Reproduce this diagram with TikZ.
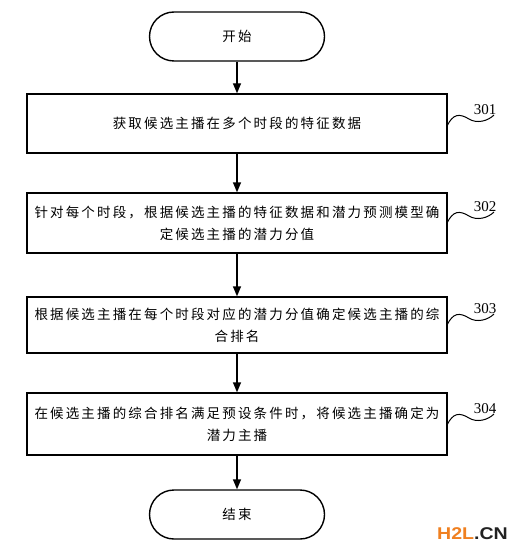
\documentclass[tikz,border=0pt]{standalone}
\usepackage{fontspec}
\usetikzlibrary{arrows.meta}
\newfontfamily\cjk[LetterSpace=16]{Noto Sans CJK SC}
\newfontfamily\numfont{Liberation Serif}
\newfontfamily\wmfont{Liberation Sans}
\definecolor{wmorange}{HTML}{F08020}
\definecolor{wmgray}{HTML}{222222}
\tikzset{
  base/.style={draw=black, line width=1.4pt, font=\cjk\fontsize{13.5}{22}\selectfont, align=center, inner sep=0pt},
  term/.style={base, minimum width=175pt, minimum height=49pt, rounded corners=24.5pt},
  stepbox/.style={base, minimum width=420pt},
  flow/.style={line width=1.4pt, -{Triangle[length=10pt,width=8pt]}},
  squig/.style={line width=1pt},
  lbl/.style={font=\numfont\fontsize{15}{16}\selectfont, inner sep=0pt}
}
\begin{document}
\begin{tikzpicture}[x=1pt,y=-1pt]
\useasboundingbox (0,0) rectangle (529,556);
\fill[white] (0,0) rectangle (529,556);

\node[term] (start) at (237,36.5) {开始};
\node[stepbox, minimum height=59pt] (s1) at (237,123.5) {获取候选主播在多个时段的特征数据};
\node[stepbox, minimum height=60pt] (s2) at (237,223) {针对每个时段，根据候选主播的特征数据和潜力预测模型确\\定候选主播的潜力分值};
\node[stepbox, minimum height=56pt] (s3) at (237,325) {根据候选主播在每个时段对应的潜力分值确定候选主播的综\\合排名};
\node[stepbox, minimum height=62pt] (s4) at (237,424) {在候选主播的综合排名满足预设条件时，将候选主播确定为\\潜力主播};
\node[term] (end) at (237,514.5) {结束};

\draw[flow] (start) -- (s1);
\draw[flow] (s1) -- (s2);
\draw[flow] (s2) -- (s3);
\draw[flow] (s3) -- (s4);
\draw[flow] (s4) -- (end);

\foreach \n/\y/\t in {s1/110/301, s2/207/302, s3/309/303, s4/409/304}{
  \node[lbl] (l\t) at (485,\y) {\t};
  \coordinate (a\t) at (447,\y+16);
  \coordinate (b\t) at (494,\y+5);
  \draw[squig] (a\t) .. controls ++(6,-12) and ++(-10,-6) .. ++(22,-7)
                     .. controls ++(8,5) and ++(-6,6) .. (b\t);
}

\node[inner sep=0pt, anchor=west, xscale=1.15] (wm) at (437,534)
  {\wmfont\bfseries\fontsize{17}{17}\selectfont\textcolor{wmorange}{H2L}\textcolor{wmgray}{.CN}};
\end{tikzpicture}
\end{document}
